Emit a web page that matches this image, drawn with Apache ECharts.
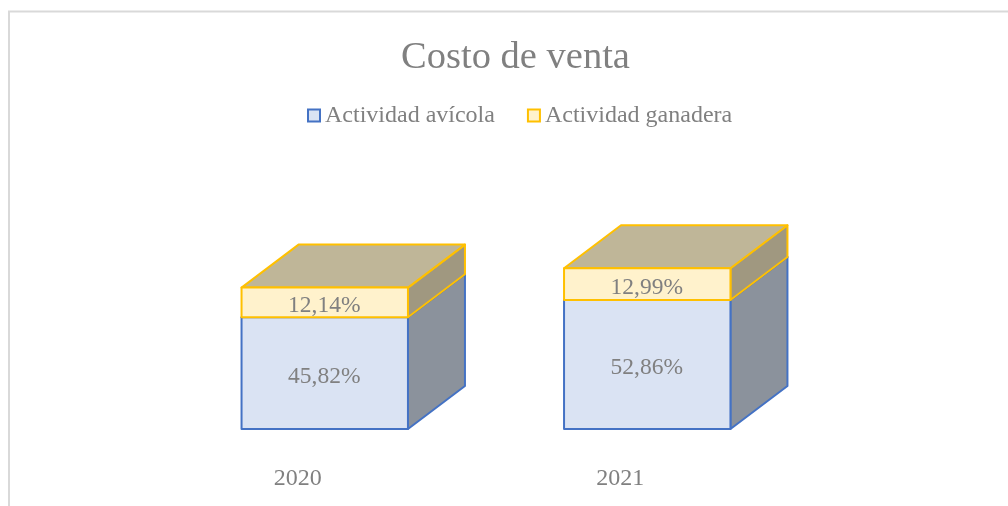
<!DOCTYPE html>
<html>
<head>
<meta charset="utf-8">
<style>html,body{margin:0;padding:0;background:#fff}#c{width:1008px;height:506px}</style>
<script src="https://cdn.jsdelivr.net/npm/echarts@6/dist/echarts.min.js"></script>
</head>
<body>
<div id="c"></div>
<script>
const categories = ['2020', '2021'];
const avicola = [45.82, 52.86];
const ganadera = [12.14, 12.99];
const seriesNames = ['Actividad avícola', 'Actividad ganadera'];
const titleText = 'Costo de venta';
const serifFont = '"Liberation Serif", "Times New Roman", serif';
const textColor = '#808080';
const depthX = 57, depthY = 43;
const palette = [
  {front: '#DAE3F3', side: '#8B929C', top: '#8B929C', line: '#4472C4'},
  {front: '#FFF2CC', side: '#A09880', top: '#BFB698', line: '#FFC000'}
];
const fmt = v => v.toFixed(2).replace('.', ',') + '%';

function makeRender(seriesIndex, lowerValues) {
  return function (params, api) {
    const i = api.value(0);
    const base = lowerValues ? lowerValues[i] : 0;
    const val = api.value(1);
    const c = palette[seriesIndex];
    const center = api.coord([i, 0])[0];
    const w = api.size([1, 0])[0] * 0.516;
    const x0 = center - w / 2, x1 = center + w / 2;
    const yb = api.coord([i, base])[1];
    const yt = api.coord([i, base + val])[1];
    const ls = {stroke: c.line, lineWidth: 2, lineJoin: 'round'};
    const children = [
      {type: 'polygon', shape: {points: [[x1, yb], [x1 + depthX, yb - depthY], [x1 + depthX, yt - depthY], [x1, yt]]},
        style: Object.assign({fill: c.side}, ls)},
      {type: 'polygon', shape: {points: [[x0, yt], [x1, yt], [x1 + depthX, yt - depthY], [x0 + depthX, yt - depthY]]},
        style: Object.assign({fill: c.top}, ls)},
      {type: 'rect', shape: {x: x0, y: yt, width: w, height: yb - yt},
        style: Object.assign({fill: c.front}, ls)},
      {type: 'text', x: center - 0.5, y: (yt + yb) / 2 + 3.5,
        style: {text: fmt(val), fill: textColor, font: '23.5px ' + serifFont, align: 'center', verticalAlign: 'middle'}}
    ];
    return {type: 'group', children};
  };
}

const chart = echarts.init(document.getElementById('c'), null, {renderer: 'canvas'});
chart.setOption({
  animation: false,
  backgroundColor: '#fff',
  title: {
    text: titleText, left: 510.5, top: 33, textAlign: 'center',
    textStyle: {color: textColor, fontFamily: serifFont, fontSize: 38.5, fontWeight: 'normal'}
  },
  legend: {
    data: seriesNames, left: 307, top: 103.5, padding: 0, icon: 'rect', itemWidth: 12, itemHeight: 12, itemGap: 32,
    textStyle: {color: textColor, fontFamily: serifFont, fontSize: 24, padding: [3, 0, 0, 0]}
  },
  grid: {left: 163.5, width: 645, top: 185, bottom: 77},
  xAxis: {
    type: 'category', data: categories,
    axisLine: {show: false}, axisTick: {show: false},
    axisLabel: {color: textColor, fontFamily: serifFont, fontSize: 24, margin: 38, padding: [0, 54, 0, 0]}
  },
  yAxis: {type: 'value', min: 0, max: 100, show: false},
  series: [
    {name: seriesNames[0], type: 'custom', coordinateSystem: 'cartesian2d', z: 2,
      itemStyle: {color: palette[0].front, borderColor: palette[0].line, borderWidth: 2},
      encode: {x: 0, y: 1},
      renderItem: makeRender(0, null), data: categories.map((c, i) => [i, avicola[i]])},
    {name: seriesNames[1], type: 'custom', coordinateSystem: 'cartesian2d', z: 3,
      itemStyle: {color: palette[1].front, borderColor: palette[1].line, borderWidth: 2},
      encode: {x: 0, y: 1},
      renderItem: makeRender(1, avicola), data: categories.map((c, i) => [i, ganadera[i]])}
  ],
  graphic: [
    {type: 'polyline', silent: true, shape: {points: [[9, 506], [9, 11.5], [1008, 11.5]]},
      style: {fill: null, stroke: '#D9D9D9', lineWidth: 2}}
  ]
});
</script>
</body>
</html>
